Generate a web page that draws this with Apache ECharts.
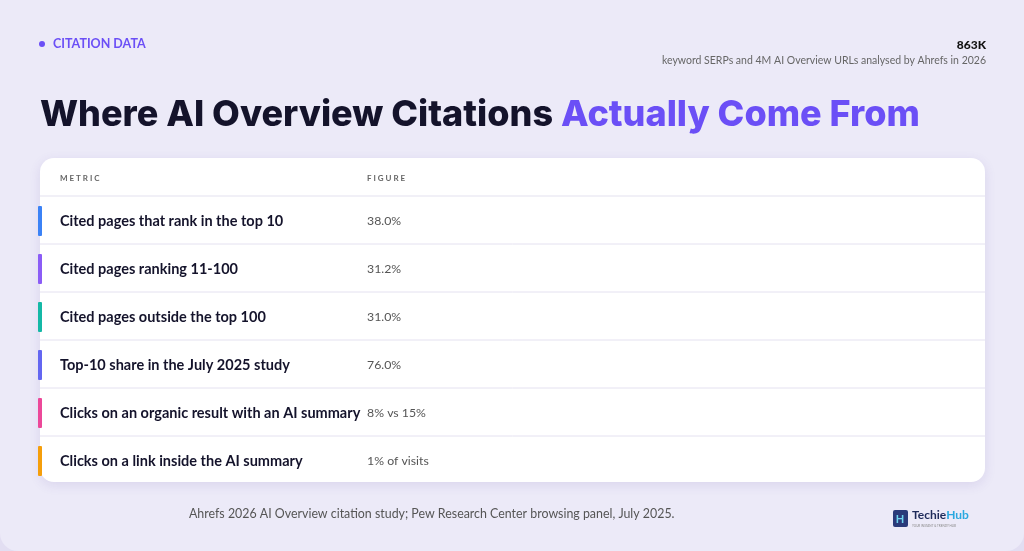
<!DOCTYPE html><html><head><meta charset="utf-8"><script src="https://cdn.jsdelivr.net/npm/echarts@6/dist/echarts.min.js"></script>
<style>html,body{margin:0;padding:0;background:#e2def2}#c{width:1024px;height:551px}</style></head><body><div id="c"></div><script>
const metrics=["Cited pages that rank in the top 10","Cited pages ranking 11-100","Cited pages outside the top 100","Top-10 share in the July 2025 study","Clicks on an organic result with an AI summary","Clicks on a link inside the AI summary"];
const figures=["38.0%","31.2%","31.0%","76.0%","8% vs 15%","1% of visits"];
const accents=["#3b82f6","#8b5cf6","#14b8a6","#6366f1","#ec4899","#f59e0b"];
const headers=["M E T R I C","F I G U R E"];
const chart=echarts.init(document.getElementById('c'));
const F='Lato, "Noto Sans", sans-serif';
const T='Inter, Lato, sans-serif';
const rowTop=196,rowH=48;
const g=[
 {type:'rect',shape:{x:0,y:0,width:1024,height:551,r:[0,0,18,18]},style:{fill:'#eceaf8'}},
 {type:'circle',shape:{cx:42,cy:44,r:3},style:{fill:'#6b4ff6'}},
 {type:'text',x:53,y:44,style:{text:'CITATION DATA',font:'bold 12.5px '+F,fill:'#6b4ff6',verticalAlign:'middle'},},
 {type:'text',x:986,y:45,style:{text:'863K',font:'900 12px '+F,fill:'#111',align:'right',verticalAlign:'middle'}},
 {type:'text',x:986,y:61,style:{text:'keyword SERPs and 4M AI Overview URLs analysed by Ahrefs in 2026',font:'10.5px '+F,fill:'#666',align:'right',verticalAlign:'middle'}},
 {type:'text',x:40,y:115,style:{rich:{a:{font:'800 36px '+T,fill:'#14132b'},b:{font:'800 36px '+T,fill:'#6b4ff6'}},text:'{a|Where AI Overview Citations }{b|Actually Come From}',verticalAlign:'middle'}},
 {type:'rect',shape:{x:40,y:158,width:945,height:324,r:14},style:{fill:'#fff',shadowBlur:12,shadowColor:'rgba(80,60,160,0.12)',shadowOffsetY:3}},
 {type:'text',x:60,y:178,style:{text:headers[0],font:'bold 8px '+F,fill:'#666',verticalAlign:'middle'}},
 {type:'text',x:367,y:178,style:{text:headers[1],font:'bold 8px '+F,fill:'#666',verticalAlign:'middle'}},
 {type:'text',x:189,y:514,style:{text:'Ahrefs 2026 AI Overview citation study; Pew Research Center browsing panel, July 2025.',font:'12.4px '+F,fill:'#555',verticalAlign:'middle'}},
 {type:'rect',shape:{x:893,y:510,width:15,height:17,r:2},style:{fill:'#2a3a7a'}},
 {type:'text',x:900,y:519,style:{text:'H',font:'bold 11px '+F,fill:'#6fd3f0',align:'center',verticalAlign:'middle'}},
 {type:'text',x:912,y:515,style:{rich:{a:{font:'bold 12px '+F,fill:'#1e2a5a'},b:{font:'bold 12px '+F,fill:'#29a8e0'}},text:'{a|Techie}{b|Hub}',verticalAlign:'middle'}},
 {type:'text',x:912,y:526,style:{text:'YOUR INSTANT & TRENDY HUB',font:'3px '+F,fill:'#888',verticalAlign:'middle'}}
];
g.push({type:'line',shape:{x1:40,y1:rowTop,x2:985,y2:rowTop},style:{stroke:'#e4e1f0',lineWidth:1.2}});
metrics.forEach((m,i)=>{const y=rowTop+i*rowH;const cy=y+rowH/2+1;
 if(i<metrics.length-1)g.push({type:'line',shape:{x1:40,y1:y+rowH,x2:985,y2:y+rowH},style:{stroke:'#e4e1f0',lineWidth:1}});
 g.push({type:'rect',shape:{x:38,y:cy-15,width:4,height:30,r:1},style:{fill:accents[i]}});
 g.push({type:'text',x:60,y:cy,style:{text:m,font:'bold 14.5px '+F,fill:'#14132b',verticalAlign:'middle'}});
 g.push({type:'text',x:367,y:cy,style:{text:figures[i],font:'12.3px '+F,fill:'#555',verticalAlign:'middle'}});
});
chart.setOption({graphic:{elements:g}});
</script></body></html>
